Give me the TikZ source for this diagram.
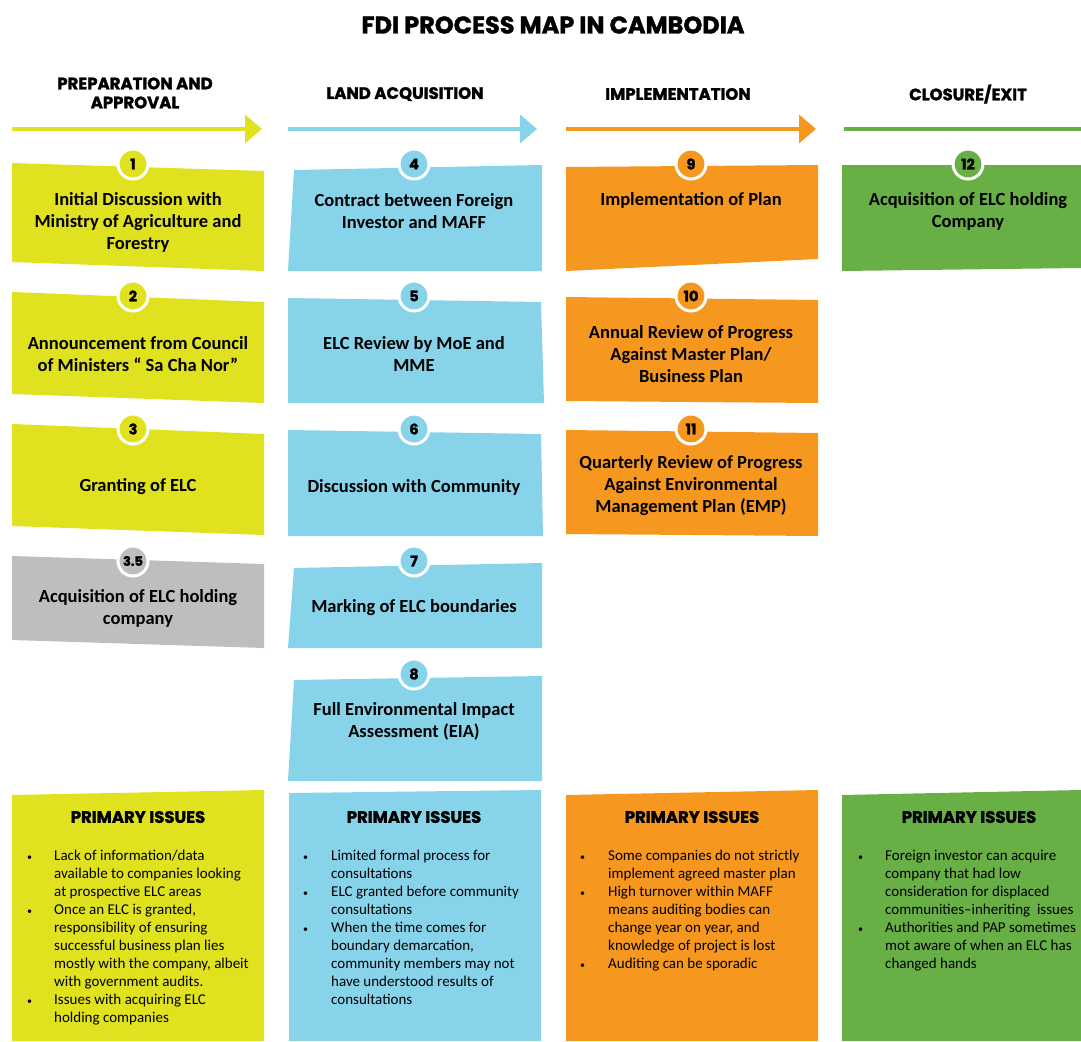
\documentclass[tikz,border=0pt]{standalone}
\usepackage{fontspec}
\setmainfont{Carlito}
\newfontfamily\headfont{Poppins}[BoldFeatures={FakeBold=1.6}]
\usetikzlibrary{arrows.meta}

\definecolor{prepcol}{HTML}{E1E21F}
\definecolor{landcol}{HTML}{87D3E9}
\definecolor{implcol}{HTML}{F6981F}
\definecolor{exitcol}{HTML}{68AF46}
\definecolor{greycol}{HTML}{BDBEC0}

\newcommand{\issuedot}{{\fontsize{10}{10}\selectfont\textbullet}}

\tikzset{
  phasearrow/.style={line width=3.5pt, -{Triangle[length=17pt,width=28pt]}},
  phasetitle/.style={font=\headfont\bfseries\fontsize{16.5}{19}\selectfont, align=center},
  badge/.style={circle, draw=white, line width=3pt, minimum size=30pt, inner sep=0pt,
    font=\headfont\bfseries\fontsize{14.5}{14.5}\selectfont},
  steptext/.style={align=center, font=\bfseries\fontsize{18.5}{22}\selectfont},
  issuetitle/.style={font=\headfont\bfseries\fontsize{16.5}{17}\selectfont},
  issuetext/.style={anchor=north west, inner sep=0pt, font=\fontsize{15}{18}\selectfont},
}

\begin{document}
\begin{tikzpicture}[x=1pt, y=-1pt]
    \useasboundingbox (0,0) rectangle (1081,1041);

    % Title
    \node[font=\headfont\bfseries\fontsize{24}{24}\selectfont] (title) at (553,25) {FDI PROCESS MAP IN CAMBODIA};

    % Phase headings
    \node[phasetitle] (h1) at (135,93) {PREPARATION AND\\APPROVAL};
    \node[phasetitle] (h2) at (405,94) {LAND ACQUISITION};
    \node[phasetitle] (h3) at (678,94) {IMPLEMENTATION};
    \node[phasetitle] (h4) at (968,94) {CLOSURE/EXIT};

    % Phase arrows
    \coordinate (a1s) at (12,129);  \coordinate (a1e) at (262,129);
    \coordinate (a2s) at (288,129); \coordinate (a2e) at (537,129);
    \coordinate (a3s) at (566,129); \coordinate (a3e) at (816,129);
    \coordinate (a4s) at (844,129); \coordinate (a4e) at (1098,129);
    \draw[phasearrow, prepcol] (a1s) -- (a1e);
    \draw[phasearrow, landcol] (a2s) -- (a2e);
    \draw[phasearrow, implcol] (a3s) -- (a3e);
    \draw[phasearrow, exitcol] (a4s) -- (a4e);

    % Preparation and approval boxes
    \fill[prepcol] (12,163) -- (264,171) -- (264,271) -- (12,262) -- cycle;
    \fill[prepcol] (12,292) -- (264,302) -- (264,403) -- (12,394) -- cycle;
    \fill[prepcol] (12,424) -- (264,434) -- (264,535) -- (12,526) -- cycle;
    \fill[greycol] (12,556) -- (264,564) -- (264,648) -- (12,640) -- cycle;

    % Land acquisition boxes
    \fill[landcol] (294,170) -- (542,165) -- (542,271) -- (288,271) -- cycle;
    \fill[landcol] (288,298) -- (541,302) -- (544,403) -- (288,403) -- cycle;
    \fill[landcol] (288,430) -- (541,434) -- (543,536) -- (288,536) -- cycle;
    \fill[landcol] (294,568) -- (542,563) -- (542,648) -- (288,648) -- cycle;
    \fill[landcol] (294,680) -- (542,676) -- (542,781) -- (288,781) -- cycle;

    % Implementation boxes
    \fill[implcol] (566,167) -- (818,165) -- (818,259) -- (566,271) -- cycle;
    \fill[implcol] (566,297) -- (818,300) -- (818,403) -- (566,401) -- cycle;
    \fill[implcol] (566,430) -- (818,433) -- (818,536) -- (566,534) -- cycle;

    % Closure box
    \fill[exitcol] (842,165) -- (1081,165) -- (1081,268) -- (842,271) -- cycle;

    % Step texts
    \node[steptext] (s1) at (138,222) {Initial Discussion with\\Ministry of Agriculture and\\Forestry};
    \node[steptext] (s2) at (138,354) {Announcement from Council\\of Ministers “ Sa Cha Nor”};
    \node[steptext] (s3) at (138,487) {Granting of ELC};
    \node[steptext] (s35) at (138,608) {Acquisition of ELC holding\\company};
    \node[steptext] (s4) at (414,211) {Contract between Foreign\\Investor and MAFF};
    \node[steptext] (s5) at (414,354) {ELC Review by MoE and\\MME};
    \node[steptext] (s6) at (414,487) {Discussion with Community};
    \node[steptext] (s7) at (414,608) {Marking of ELC boundaries};
    \node[steptext] (s8) at (414,721) {Full Environmental Impact\\Assessment (EIA)};
    \node[steptext] (s9) at (691,200) {Implementation of Plan};
    \node[steptext] (s10) at (691,354) {Annual Review of Progress\\Against Master Plan/\\Business Plan};
    \node[steptext] (s11) at (691,486) {Quarterly Review of Progress\\Against Environmental\\Management Plan (EMP)};
    \node[steptext] (s12) at (968,211) {Acquisition of ELC holding\\Company};

    % Number badges
    \node[badge, fill=prepcol] (b1) at (133,164) {1};
    \node[badge, fill=prepcol] (b2) at (133,296) {2};
    \node[badge, fill=prepcol] (b3) at (133,429) {3};
    \node[badge, fill=greycol, font=\headfont\bfseries\fontsize{13}{13}\selectfont] (b35) at (133,561) {3.5};
    \node[badge, fill=landcol] (b4) at (414,164) {4};
    \node[badge, fill=landcol] (b5) at (414,296) {5};
    \node[badge, fill=landcol] (b6) at (414,429) {6};
    \node[badge, fill=landcol] (b7) at (414,561) {7};
    \node[badge, fill=landcol] (b8) at (414,674) {8};
    \node[badge, fill=implcol] (b9) at (691,164) {9};
    \node[badge, fill=implcol] (b10) at (691,296) {10};
    \node[badge, fill=implcol] (b11) at (691,429) {11};
    \node[badge, fill=exitcol] (b12) at (968,164) {12};

    % Primary issues boxes
    \fill[prepcol] (12,795) -- (264,790) -- (264,1041) -- (12,1041) -- cycle;
    \fill[landcol] (289,793) -- (541,790) -- (541,1041) -- (289,1041) -- cycle;
    \fill[implcol] (566,795) -- (818,790) -- (818,1041) -- (566,1041) -- cycle;
    \fill[exitcol] (842,795) -- (1081,790) -- (1081,1041) -- (842,1041) -- cycle;

    \node[issuetitle] (p1) at (138,817) {PRIMARY ISSUES};
    \node[issuetitle] (p2) at (414,817) {PRIMARY ISSUES};
    \node[issuetitle] (p3) at (692,817) {PRIMARY ISSUES};
    \node[issuetitle] (p4) at (969,817) {PRIMARY ISSUES};

    \node[issuetext] (i1) at (27,848) {\begin{tabular}{@{}p{27pt}@{}l@{}}
      \issuedot & Lack of information/data\\
       & available to companies looking\\
       & at prospective ELC areas\\
      \issuedot & Once an ELC is granted,\\
       & responsibility of ensuring\\
       & successful business plan lies\\
       & mostly with the company, albeit\\
       & with government audits.\\
      \issuedot & Issues with acquiring ELC\\
       & holding companies
    \end{tabular}};
    \node[issuetext] (i2) at (303,848) {\begin{tabular}{@{}p{28pt}@{}l@{}}
      \issuedot & Limited formal process for\\
       & consultations\\
      \issuedot & ELC granted before community\\
       & consultations\\
      \issuedot & When the time comes for\\
       & boundary demarcation,\\
       & community members may not\\
       & have understood results of\\
       & consultations
    \end{tabular}};
    \node[issuetext] (i3) at (580,848) {\begin{tabular}{@{}p{28pt}@{}l@{}}
      \issuedot & Some companies do not strictly\\
       & implement agreed master plan\\
      \issuedot & High turnover within MAFF\\
       & means auditing bodies can\\
       & change year on year, and\\
       & knowledge of project is lost\\
      \issuedot & Auditing can be sporadic
    \end{tabular}};
    \node[issuetext] (i4) at (858,848) {\begin{tabular}{@{}p{27pt}@{}l@{}}
      \issuedot & Foreign investor can acquire\\
       & company that had low\\
       & consideration for displaced\\
       & communities–inheriting\ \ issues\\
      \issuedot & Authorities and PAP sometimes\\
       & mot aware of when an ELC has\\
       & changed hands
    \end{tabular}};

\end{tikzpicture}
\end{document}
